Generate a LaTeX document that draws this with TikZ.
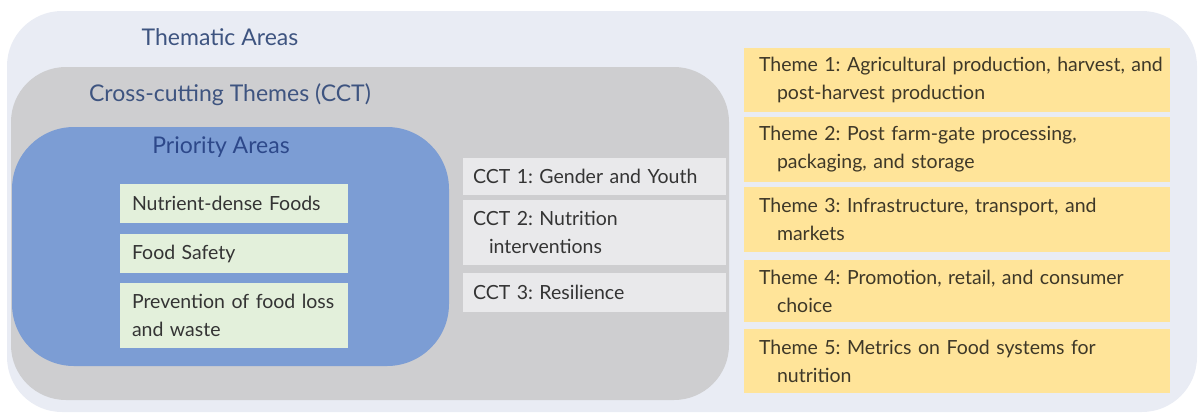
\documentclass[tikz,border=0pt]{standalone}
\usepackage{fontspec}
\setmainfont{Lato}
\usepackage{tikz}
\usetikzlibrary{positioning}
\frenchspacing
\definecolor{areabg}{RGB}{233,236,244}
\definecolor{cctbg}{RGB}{206,206,208}
\definecolor{prioritybg}{RGB}{124,157,212}
\definecolor{greenbox}{RGB}{227,240,219}
\definecolor{greybox}{RGB}{233,233,235}
\definecolor{themebox}{RGB}{255,228,153}
\definecolor{labelblue}{RGB}{62,84,128}
\definecolor{labeldark}{RGB}{45,72,138}
\definecolor{boxtext}{RGB}{52,52,52}
\definecolor{themetext}{RGB}{62,56,40}
\tikzset{area/.style = {fill, rounded corners = 55, inner sep = 0}}
\tikzset{heading/.style = {font = \fontsize{23}{27}\selectfont, inner sep = 0}}
\tikzset{entry/.style = {inner xsep = 12, inner ysep = 0, align = left,
                         font = \fontsize{19.5}{28}\selectfont, text = boxtext}}
\tikzset{prio/.style = {entry, fill = greenbox, minimum width = 228,
                        text width = 204}}
\tikzset{cct/.style = {entry, fill = greybox, inner xsep = 10, minimum width = 263,
                       text width = 243}}
\tikzset{theme/.style = {entry, fill = themebox, inner xsep = 15, minimum width = 426,
                         text width = 396, text = themetext}}

\begin{document}
\begin{tikzpicture}[x = 1pt, y = -1pt]
    \useasboundingbox (0, 0) rectangle (1202, 418);
    % nested areas
    \node [area, fill = areabg, rounded corners = 55, minimum width = 1190, minimum height = 401]
      (thematic) at (602, 211.5) {};
    \node [area, fill = cctbg, minimum width = 718, minimum height = 333]
      (crosscut) at (370, 233.5) {};
    \node [area, fill = prioritybg, rounded corners = 62, minimum width = 437, minimum height = 239]
      (priority) at (230.5, 246.5) {};
    \node [heading, text = labelblue] (thematiclabel) at (220, 37) {Thematic Areas};
    \node [heading, text = labelblue] (crosscutlabel) at (230, 95) {Cross-cutting Themes (CCT)};
    \node [heading, text = labeldark] (prioritylabel) at (221, 147) {Priority Areas};
    % priority areas
    \node [prio, minimum height = 39] (foods) at (234, 203.5) {Nutrient-dense Foods};
    \node [prio, minimum height = 39] (safety) at (234, 253.5) {Food Safety};
    \node [prio, minimum height = 65] (loss) at (234, 315.5) {Prevention of food loss\\and waste};
    % cross-cutting themes
    \node [cct, minimum height = 37] (cct1) at (594.5, 176.5) {CCT 1: Gender and Youth};
    \node [cct, minimum height = 65] (cct2) at (594.5, 232.5)
      {CCT 2: Nutrition\\\hspace*{16pt}interventions};
    \node [cct, minimum height = 39] (cct3) at (594.5, 292.5) {CCT 3: Resilience};
    % thematic areas
    \node [theme, minimum height = 64] (theme1) at (957, 80)
      {\mbox{Theme 1: Agricultural production, harvest, and}\\\hspace*{18pt}post-harvest production};
    \node [theme, minimum height = 65] (theme2) at (957, 149.5)
      {Theme 2: Post farm-gate processing,\\\hspace*{18pt}packaging, and storage};
    \node [theme, minimum height = 65] (theme3) at (957, 219.5)
      {Theme 3: Infrastructure, transport, and\\\hspace*{18pt}markets};
    \node [theme, minimum height = 62] (theme4) at (957, 291)
      {Theme 4: Promotion, retail, and consumer\\\hspace*{18pt}choice};
    \node [theme, minimum height = 64] (theme5) at (957, 361)
      {Theme 5: Metrics on Food systems for\\\hspace*{18pt}nutrition};
  \end{tikzpicture}
\end{document}
